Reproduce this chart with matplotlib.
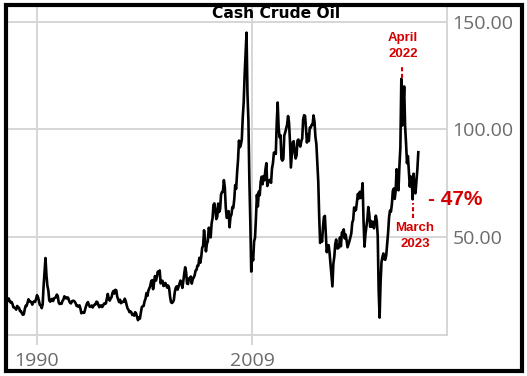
import numpy as np
import matplotlib
matplotlib.use("Agg")
import matplotlib.pyplot as plt
from matplotlib.patches import Rectangle

# monthly cash crude prices, starting June 1987
start_year = 1987 + 5 / 12
prices = [
    20.3, 21.4, 20.3, 19.5, 19.8, 18.9, 17.3,                                  # 1987
    17.1, 16.8, 16.2, 17.9, 17.4, 17.0, 15.5, 15.5, 14.5, 13.8, 14.0, 16.3,    # 1988
    18.0, 17.9, 19.4, 21.0, 20.0, 20.0, 19.6, 18.5, 19.6, 20.1, 19.8, 21.1,    # 1989
    22.9, 22.1, 20.4, 18.4, 18.2, 16.9, 18.6, 27.2, 33.7, 40.2, 32.3, 27.3,    # 1990
    25.2, 20.5, 19.9, 20.8, 21.2, 20.2, 21.4, 21.7, 21.9, 23.2, 22.5, 19.5,    # 1991
    18.8, 19.0, 18.9, 20.2, 20.9, 22.4, 21.8, 21.4, 21.9, 21.7, 20.3, 19.4,    # 1992
    19.1, 20.1, 20.3, 20.3, 19.9, 19.1, 17.9, 18.0, 17.5, 18.2, 16.7, 14.5,    # 1993
    15.0, 14.8, 14.7, 16.4, 17.9, 19.1, 19.7, 18.4, 17.5, 17.7, 18.1, 17.2,    # 1994
    18.0, 18.5, 18.6, 19.9, 19.7, 18.4, 17.3, 18.0, 18.2, 17.4, 18.0, 19.0,    # 1995
    18.9, 19.1, 21.3, 23.5, 21.2, 20.4, 21.3, 22.0, 24.0, 24.9, 23.7, 25.4,    # 1996
    25.2, 22.2, 20.9, 19.7, 20.8, 19.2, 19.6, 19.9, 19.8, 21.3, 20.2, 18.3,    # 1997
    16.7, 16.1, 15.0, 15.4, 14.9, 13.7, 14.1, 13.4, 15.0, 14.4, 12.9, 11.3,    # 1998
    12.5, 12.0, 14.7, 17.3, 17.8, 17.9, 20.1, 21.3, 23.9, 22.6, 25.0, 26.1,    # 1999
    27.2, 29.4, 29.9, 25.7, 28.8, 31.8, 29.7, 31.3, 33.9, 33.1, 34.4, 28.4,    # 2000
    29.6, 29.6, 27.2, 27.4, 28.6, 27.6, 26.4, 27.4, 26.2, 22.2, 19.6, 19.3,    # 2001
    19.7, 20.7, 24.4, 26.3, 27.0, 25.5, 26.9, 28.4, 29.7, 28.9, 26.3, 29.4,    # 2002
    32.9, 35.9, 33.5, 28.3, 28.1, 30.7, 30.8, 31.6, 28.3, 30.3, 31.1, 32.1,    # 2003
    34.3, 34.7, 36.7, 36.7, 40.3, 38.0, 40.7, 44.9, 45.9, 53.1, 48.5, 43.3,    # 2004
    46.8, 48.0, 54.3, 53.0, 49.8, 56.3, 58.7, 65.0, 65.6, 62.4, 58.3, 59.4,    # 2005
    65.5, 61.6, 62.9, 69.7, 70.9, 71.0, 76.4, 73.0, 63.8, 58.9, 59.1, 62.0,    # 2006
    54.5, 59.3, 60.4, 63.9, 63.5, 67.5, 74.1, 72.4, 79.9, 85.8, 94.8, 91.7,    # 2007
    93.0, 95.4, 105.5, 112.6, 125.4, 135.0, 145.0, 116.7, 104.1, 76.6, 57.3, 33.9,  # 2008
    41.7, 39.1, 47.9, 49.6, 59.0, 69.6, 64.2, 71.1, 69.4, 75.7, 78.0, 74.5,    # 2009
    78.3, 76.4, 81.2, 84.3, 73.7, 75.3, 76.3, 76.6, 75.2, 81.9, 84.3, 89.2,    # 2010
    89.2, 88.6, 102.9, 112.5, 100.9, 96.3, 97.3, 86.3, 85.5, 86.3, 97.2, 98.6, # 2011
    100.3, 102.2, 106.2, 103.3, 94.7, 82.3, 87.9, 94.1, 94.5, 89.5, 86.5, 87.9,  # 2012
    94.8, 95.3, 92.9, 92.0, 94.5, 95.8, 104.6, 106.6, 106.3, 100.5, 93.9, 97.6,  # 2013
    94.6, 100.8, 100.8, 102.1, 102.2, 106.5, 103.6, 96.5, 93.2, 84.4, 75.8, 59.3,  # 2014
    47.2, 50.6, 47.8, 54.5, 59.3, 59.8, 50.9, 42.9, 45.5, 46.2, 42.4, 37.2,    # 2015
    31.7, 27.0, 37.5, 40.8, 46.7, 48.8, 44.7, 44.7, 45.2, 49.8, 45.7, 52.0,    # 2016
    52.5, 53.5, 49.3, 51.1, 48.5, 45.2, 46.6, 48.0, 49.8, 51.6, 56.6, 57.9,    # 2017
    63.7, 62.2, 62.7, 66.3, 70.0, 67.9, 71.0, 68.1, 70.2, 75.0, 57.0, 45.5,    # 2018
    51.4, 55.0, 58.2, 63.9, 60.8, 54.7, 57.4, 54.8, 57.0, 54.0, 57.0, 59.9,    # 2019
    57.5, 50.5, 25.0, 12.5, 28.6, 38.3, 40.7, 42.3, 39.6, 39.4, 41.4, 47.0,    # 2020
    52.0, 59.0, 62.3, 61.7, 65.2, 71.4, 72.5, 67.7, 71.6, 81.5, 79.2, 71.7,    # 2021
    83.2, 91.6, 123.5, 101.8, 109.6, 120.0, 101.6, 93.7, 84.3, 87.6, 80.4, 73.4,  # 2022
    78.1, 76.8, 67.5, 79.4, 71.6, 70.3, 76.1, 81.4, 89.4,                       # 2023
]
years = start_year + np.arange(len(prices)) / 12

y_ticks = [50, 100, 150]
x_ticks = [1990, 2009]

grid_col = "#d6d6d6"
label_col = "#6b6b6b"
red = "#d40000"

fig = plt.figure(figsize=(5.27, 3.76), dpi=100)
ax = fig.add_axes([8 / 527, 41 / 376, 439 / 527, 329 / 376])

ax.plot(years, prices, color="black", lw=1.9, zorder=3)

ax.set_xlim(1987.44, 2026.2)
ax.set_ylim(4.4, 157.4)

ax.set_yticks(y_ticks)
ax.set_yticklabels([f"{v:.2f}" for v in y_ticks])
ax.yaxis.tick_right()
ax.set_xticks(x_ticks)
ax.set_xticklabels([str(v) for v in x_ticks])
ax.grid(True, color=grid_col, lw=1.4, zorder=0)
ax.tick_params(axis="y", length=0, pad=4, labelsize=14, labelcolor=label_col)
ax.tick_params(axis="x", length=7, width=1.4, color=grid_col, pad=5,
               labelsize=14, labelcolor=label_col)
for lab in ax.get_xticklabels() + ax.get_yticklabels():
    lab.set_fontfamily("Open Sans")

for side in ["top", "left"]:
    ax.spines[side].set_visible(False)
for side in ["bottom", "right"]:
    ax.spines[side].set_color(grid_col)
    ax.spines[side].set_linewidth(1.4)

fig.text(276 / 527, 1 - 14 / 376, "Cash Crude Oil", ha="center", va="center",
         fontsize=11.2, fontweight="heavy", family="DejaVu Sans")

# annotations
ax.plot([2022.2, 2022.2], [124, 130], color=red, lw=1.5, ls=(0, (2, 1.2)), zorder=4)
ax.plot([2023.2, 2023.2], [58.8, 65.8], color=red, lw=1.5, ls=(0, (2, 1.2)), zorder=4)
ax.text(2022.33, 139, "April\n2022", color=red, ha="center", va="center",
        fontsize=9.5, fontweight="bold", family="Liberation Sans", linespacing=1.45)
ax.text(2023.37, 50.3, "March\n2023", color=red, ha="center", va="center",
        fontsize=9.5, fontweight="bold", family="Liberation Sans", linespacing=1.45)
ax.text(2024.5, 67.2, "- 47%", color=red, ha="left", va="center",
        fontsize=15, fontweight="bold", family="Liberation Sans", clip_on=False)

fig.patches.append(Rectangle((6 / 527, 5 / 376), 516 / 527, 366 / 376,
                             transform=fig.transFigure, fill=False,
                             edgecolor="black", lw=3))

fig.savefig("out.png", dpi=100)
